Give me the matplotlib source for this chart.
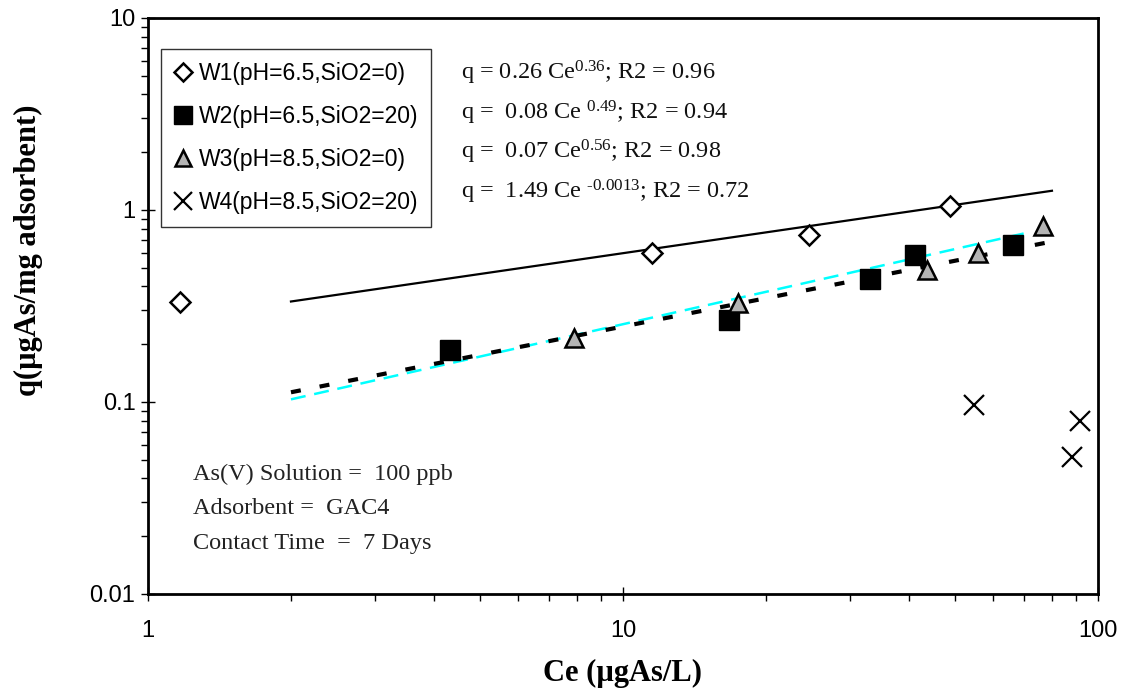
import numpy as np
import matplotlib
matplotlib.use("Agg")
import matplotlib.pyplot as plt

plt.rcParams['mathtext.fontset'] = 'custom'
plt.rcParams['mathtext.rm'] = 'Liberation Serif'
plt.rcParams['mathtext.it'] = 'Liberation Serif'

# data
w1_ce = [1.17, 11.5, 24.6, 48.8]
w1_q = [0.33, 0.60, 0.74, 1.05]
w2_ce = [4.32, 16.7, 33.1, 41.2, 66.2]
w2_q = [0.187, 0.267, 0.437, 0.583, 0.657]
w3_ce = [7.88, 17.5, 43.6, 55.9, 76.6]
w3_q = [0.215, 0.328, 0.487, 0.597, 0.825]
w4_ce = [54.8, 88.2, 91.6]
w4_q = [0.0965, 0.0517, 0.0796]

labels = ['W1(pH=6.5,SiO2=0)', 'W2(pH=6.5,SiO2=20)',
          'W3(pH=8.5,SiO2=0)', 'W4(pH=8.5,SiO2=20)']

# power law trendlines q = a*Ce^b, drawn over [start, end]
fit_a = [0.26, 0.08, 0.07]
fit_b = [0.36, 0.49, 0.56]
fit_range = [(2, 80), (2, 79), (2, 70)]

equations = [r'q = 0.26 Ce$^{0.36}$; R2 = 0.96',
             r'q =  0.08 Ce $^{0.49}$; R2 = 0.94',
             r'q =  0.07 Ce$^{0.56}$; R2 = 0.98',
             r'q =  1.49 Ce $^{\text{-0.0013}}$; R2 = 0.72']
notes = ['As(V) Solution =  100 ppb', 'Adsorbent =  GAC4', 'Contact Time  =  7 Days']

fig = plt.figure(figsize=(11.33, 6.94), dpi=100)
ax = fig.add_axes([0.1306, 0.1441, 0.8385, 0.8300])

def fit_line(i):
    x = np.array(fit_range[i], dtype=float)
    return x, fit_a[i] * x ** fit_b[i]

x, y = fit_line(0)
ax.plot(x, y, color='black', lw=1.6, zorder=2)
x, y = fit_line(2)
ax.plot(x, y, color='cyan', lw=1.8, dashes=(6, 3.5), zorder=2)
x, y = fit_line(1)
ax.plot(x, y, color='black', lw=3, dashes=(2.4, 4.6), zorder=2)

ax.plot(w1_ce, w1_q, 'D', ms=10, mfc='white', mec='black', mew=1.8, label=labels[0], zorder=3)
ax.plot(w2_ce, w2_q, 's', ms=14, mfc='black', mec='black', mew=1, label=labels[1], zorder=3)
ax.plot(w3_ce, w3_q, '^', ms=13, mfc='#b4b4b4', mec='black', mew=1.8, label=labels[2], zorder=3)
ax.plot(w4_ce, w4_q, 'x', ms=14, color='black', mew=1.6, label=labels[3], zorder=3)

ax.set_xscale('log')
ax.set_yscale('log')
ax.set_xlim(1, 100)
ax.set_ylim(0.01, 10)
ax.set_xticks([1, 10, 100])
ax.set_xticklabels(['1', '10', '100'])
ax.set_yticks([0.01, 0.1, 1, 10])
ax.set_yticklabels(['0.01', '0.1', '1', '10'])

for s in ax.spines.values():
    s.set_linewidth(2)
ax.tick_params(which='major', direction='inout', length=10, width=1, labelsize=17)
ax.tick_params(axis='x', which='major', pad=14)
ax.tick_params(axis='y', which='major', pad=4)
ax.tick_params(which='minor', direction='out', length=5, width=1)
for lab in ax.get_xticklabels() + ax.get_yticklabels():
    lab.set_fontfamily('Liberation Sans')

ax.set_xlabel('Ce (µgAs/L)', fontsize=22, fontweight='bold', family='Liberation Serif', labelpad=12)
ax.set_ylabel('q(µgAs/mg adsorbent)', fontsize=22, fontweight='bold', family='Liberation Serif')
ax.yaxis.set_label_coords(-0.11, 0.597)

leg = ax.legend(loc='upper left', bbox_to_anchor=(0.0137, 0.946), borderaxespad=0,
                fancybox=False, frameon=True, handlelength=0.8, handletextpad=0.3,
                labelspacing=0.88, borderpad=0.55, markerscale=0.9,
                prop={'family': 'Liberation Sans', 'size': 16.5})
leg.get_frame().set_edgecolor('black')
leg.get_frame().set_linewidth(1)

for i, eq in enumerate(equations):
    ax.text(0.33, 0.905 - i * 0.069, eq, transform=ax.transAxes, fontsize=17.5,
            family='Liberation Serif', va='center', ha='left', color='#111111')

for i, t in enumerate(notes):
    ax.text(0.047, 0.208 - i * 0.06, t, transform=ax.transAxes, fontsize=17.5,
            family='Liberation Serif', va='center', ha='left', color='#222222')

fig.savefig('out.png', dpi=100)
